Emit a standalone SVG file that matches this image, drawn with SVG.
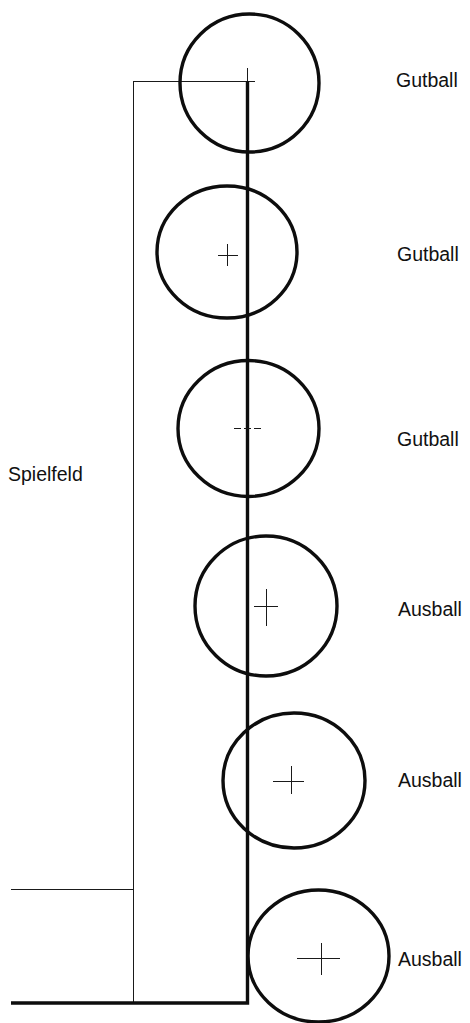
<svg xmlns="http://www.w3.org/2000/svg" width="470" height="1023" viewBox="0 0 470 1023">
<style>
.ball{fill:none;stroke:#0d0d0d;stroke-width:3.4}
.thick{fill:none;stroke:#0d0d0d;stroke-width:3.4}
.thin{fill:none;stroke:#1a1a1a;stroke-width:1}
.cross{fill:none;stroke:#1a1a1a;stroke-width:1}
.lbl{font-family:"Liberation Sans",Arial,sans-serif;font-size:19.5px;fill:#111}
</style>
<rect width="470" height="1023" fill="#fff"/>
<g id="field">
<line class="thin" x1="133" y1="81.5" x2="255" y2="81.5"/>
<line class="thin" x1="133.5" y1="81" x2="133.5" y2="1003"/>
<line class="thin" x1="11" y1="889.5" x2="133" y2="889.5"/>
<polyline class="thick" points="11,1003 247.5,1003 247.5,81"/>
<text class="lbl" x="8" y="481">Spielfeld</text>
</g>
<g id="ball1">
<ellipse class="ball" cx="249.5" cy="83" rx="69.5" ry="69"/>
<line class="cross" x1="247.5" y1="68" x2="247.5" y2="81"/>
<text class="lbl" x="396" y="87">Gutball</text>
</g>
<g id="ball2">
<ellipse class="ball" cx="227" cy="252" rx="70" ry="66"/>
<line class="cross" x1="218" y1="255.5" x2="238" y2="255.5"/>
<line class="cross" x1="227.5" y1="244" x2="227.5" y2="266"/>
<text class="lbl" x="397" y="261">Gutball</text>
</g>
<g id="ball3">
<ellipse class="ball" cx="248.5" cy="428.5" rx="70.5" ry="68"/>
<line class="cross" x1="234" y1="428.5" x2="261" y2="428.5" stroke-dasharray="7 3"/>
<text class="lbl" x="397" y="446">Gutball</text>
</g>
<g id="ball4">
<ellipse class="ball" cx="266" cy="606" rx="71" ry="70"/>
<line class="cross" x1="254" y1="606.5" x2="278" y2="606.5"/>
<line class="cross" x1="266.5" y1="589" x2="266.5" y2="626"/>
<text class="lbl" x="398" y="616">Ausball</text>
</g>
<g id="ball5">
<ellipse class="ball" cx="294" cy="780.5" rx="71" ry="67.5"/>
<line class="cross" x1="273" y1="781.5" x2="304" y2="781.5"/>
<line class="cross" x1="291.5" y1="766" x2="291.5" y2="794"/>
<text class="lbl" x="398" y="787">Ausball</text>
</g>
<g id="ball6">
<ellipse class="ball" cx="318.5" cy="956" rx="70.5" ry="66"/>
<line class="cross" x1="297" y1="958.5" x2="340" y2="958.5"/>
<line class="cross" x1="321.5" y1="943" x2="321.5" y2="975"/>
<text class="lbl" x="398" y="966">Ausball</text>
</g>
</svg>
